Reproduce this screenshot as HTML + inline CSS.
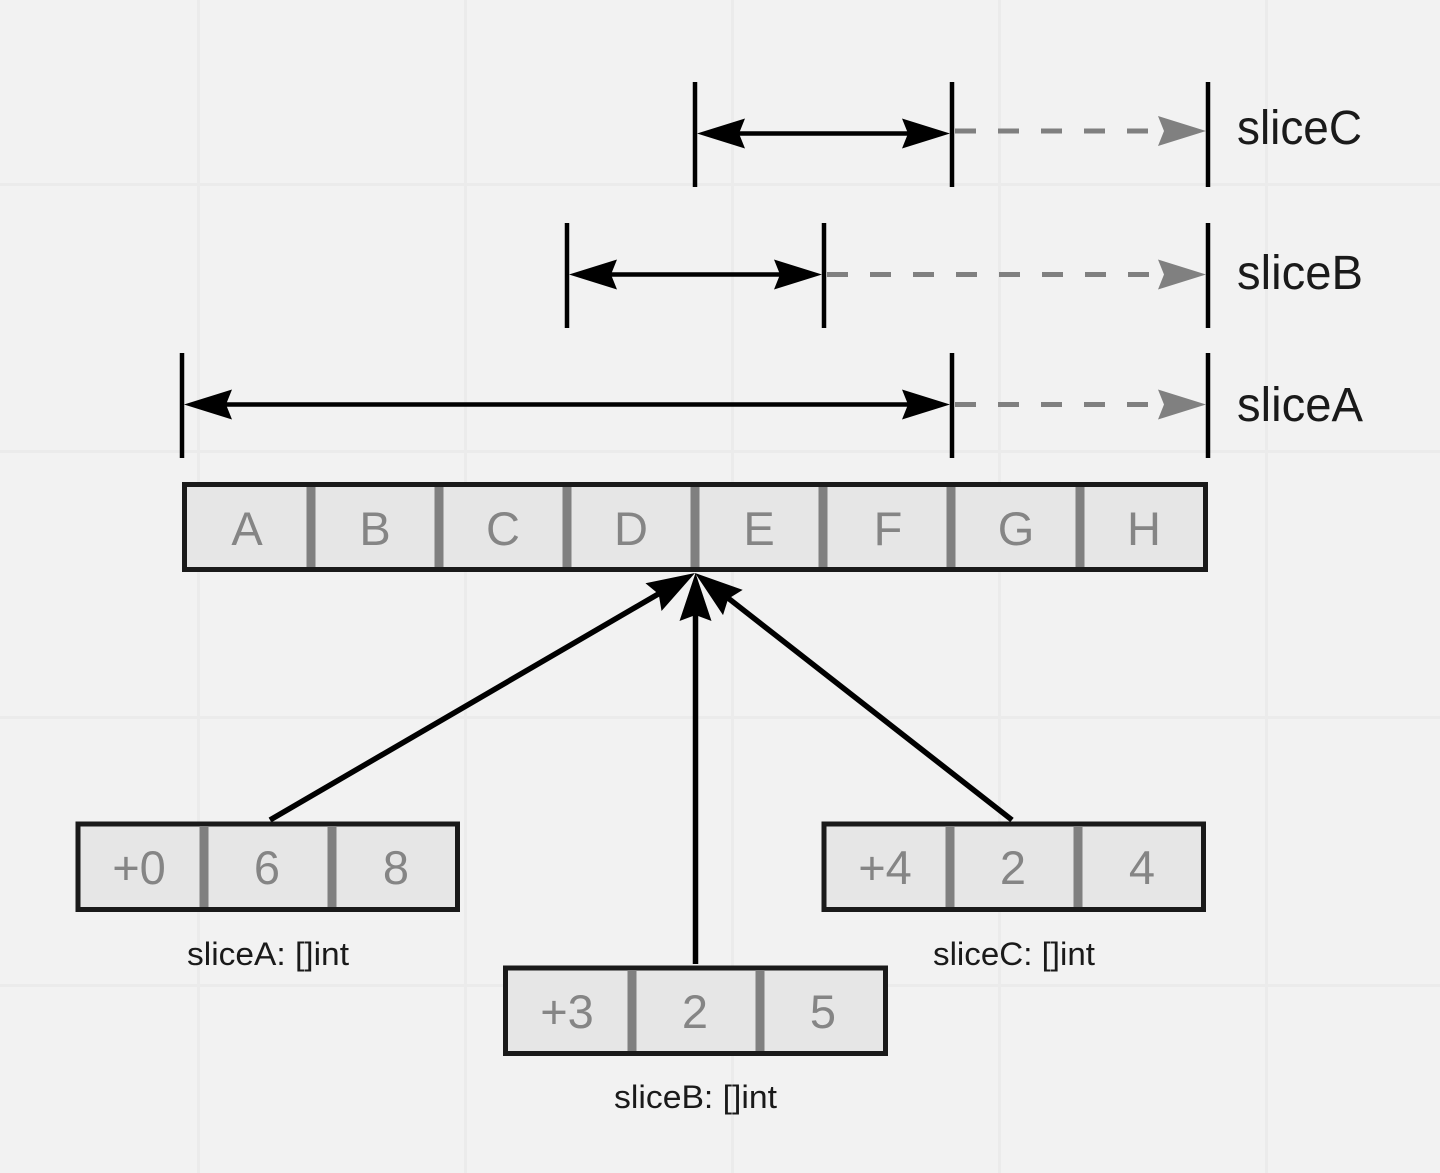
<!DOCTYPE html>
<html>
<head>
<meta charset="utf-8">
<style>
html,body{margin:0;padding:0;background:#f2f2f2;width:1440px;height:1173px;overflow:hidden}
svg{display:block}
.c{font-family:"Liberation Sans",sans-serif;font-size:47px;fill:#858585;text-anchor:middle}
.l{font-family:"Liberation Sans",sans-serif;font-size:48px;fill:#1a1a1a}
.s{font-family:"Liberation Sans",sans-serif;font-size:32px;fill:#1a1a1a}
.g{stroke:#ebebeb;stroke-width:3;fill:none}
.v{stroke:#000;stroke-width:4.5;fill:none}
.a{stroke:#000;stroke-width:4.5;fill:none}
.p{stroke:#000;stroke-width:5.5;fill:none}
.d{stroke:#808080;stroke-width:5;fill:none;stroke-dasharray:21 22}
.b{fill:#e6e6e6;stroke:#1a1a1a;stroke-width:5}
.m{stroke:#808080;stroke-width:9;fill:none}
</style>
</head>
<body>
<svg width="1440" height="1173" viewBox="0 0 1440 1173" xmlns="http://www.w3.org/2000/svg">
<rect width="1440" height="1173" fill="#f2f2f2"/>
<!-- grid -->
<path class="g" d="M198.5 0V1173M465.5 0V1173M732.5 0V1173M999.5 0V1173M1266.5 0V1173M0 184.5H1440M0 451.5H1440M0 717.5H1440M0 985.5H1440"/>

<!-- sliceC -->
<path class="v" d="M695 82V187M952 82V187M1208 82V187"/>
<path class="a" d="M735 133.5H910"/>
<polygon points="697,133.5 745,118.5 739,133.5 745,148.5"/>
<polygon points="950,133.5 902,118.5 908,133.5 902,148.5"/>
<path class="d" d="M955 131H1158"/>
<polygon fill="#808080" points="1206,131 1158,116 1164,131 1158,146"/>
<text class="l" x="1237" y="144" textLength="125" lengthAdjust="spacingAndGlyphs">sliceC</text>

<!-- sliceB -->
<path class="v" d="M567 223V328M824 223V328M1208 223V328"/>
<path class="a" d="M607 274.5H782"/>
<polygon points="569,274.5 617,259.5 611,274.5 617,289.5"/>
<polygon points="822,274.5 774,259.5 780,274.5 774,289.5"/>
<path class="d" d="M827 274.5H1158"/>
<polygon fill="#808080" points="1206,274.5 1158,259.5 1164,274.5 1158,289.5"/>
<text class="l" x="1237" y="289" textLength="126" lengthAdjust="spacingAndGlyphs">sliceB</text>

<!-- sliceA -->
<path class="v" d="M182 353V458M952 353V458M1208 353V458"/>
<path class="a" d="M222 404.5H910"/>
<polygon points="184,404.5 232,389.5 226,404.5 232,419.5"/>
<polygon points="950,404.5 902,389.5 908,404.5 902,419.5"/>
<path class="d" d="M955 404.5H1158"/>
<polygon fill="#808080" points="1206,404.5 1158,389.5 1164,404.5 1158,419.5"/>
<text class="l" x="1237" y="421" textLength="126" lengthAdjust="spacingAndGlyphs">sliceA</text>

<!-- main array -->
<rect class="b" x="184.5" y="484.5" width="1021" height="85"/>
<path class="m" d="M311 487V567M439 487V567M567 487V567M695 487V567M823 487V567M951 487V567M1080 487V567"/>
<text class="c" x="247" y="545">A</text>
<text class="c" x="375" y="545">B</text>
<text class="c" x="503" y="545">C</text>
<text class="c" x="631" y="545">D</text>
<text class="c" x="759" y="545">E</text>
<text class="c" x="888" y="545">F</text>
<text class="c" x="1016" y="545">G</text>
<text class="c" x="1144" y="545">H</text>

<!-- pointers -->
<path class="p" d="M270 820L660 593"/>
<path class="p" d="M695.5 964V615"/>
<path class="p" d="M1012 820L728 598"/>
<polygon transform="translate(695,573) rotate(-30.16)" points="0,0 -48,-16 -42,0 -48,16"/>
<polygon transform="translate(695.5,573) rotate(-90)" points="0,0 -48,-16 -42,0 -48,16"/>
<polygon transform="translate(695,573) rotate(-142.07)" points="0,0 -48,-16 -42,0 -48,16"/>

<!-- sliceA header -->
<rect class="b" x="78" y="824" width="379.5" height="85.5"/>
<path class="m" d="M204 826V907M332 826V907"/>
<text class="c" x="139" y="884">+0</text>
<text class="c" x="267" y="884">6</text>
<text class="c" x="396" y="884">8</text>
<text class="s" x="187" y="965" textLength="162" lengthAdjust="spacingAndGlyphs">sliceA: []int</text>

<!-- sliceB header -->
<rect class="b" x="505.5" y="968" width="380" height="85.5"/>
<path class="m" d="M632 970V1051M760 970V1051"/>
<text class="c" x="567" y="1028">+3</text>
<text class="c" x="695" y="1028">2</text>
<text class="c" x="823" y="1028">5</text>
<text class="s" x="614" y="1108" textLength="163" lengthAdjust="spacingAndGlyphs">sliceB: []int</text>

<!-- sliceC header -->
<rect class="b" x="824" y="824" width="379.5" height="85.5"/>
<path class="m" d="M950 826V907M1078 826V907"/>
<text class="c" x="885" y="884">+4</text>
<text class="c" x="1013" y="884">2</text>
<text class="c" x="1142" y="884">4</text>
<text class="s" x="933" y="965" textLength="162" lengthAdjust="spacingAndGlyphs">sliceC: []int</text>
</svg>
</body>
</html>
